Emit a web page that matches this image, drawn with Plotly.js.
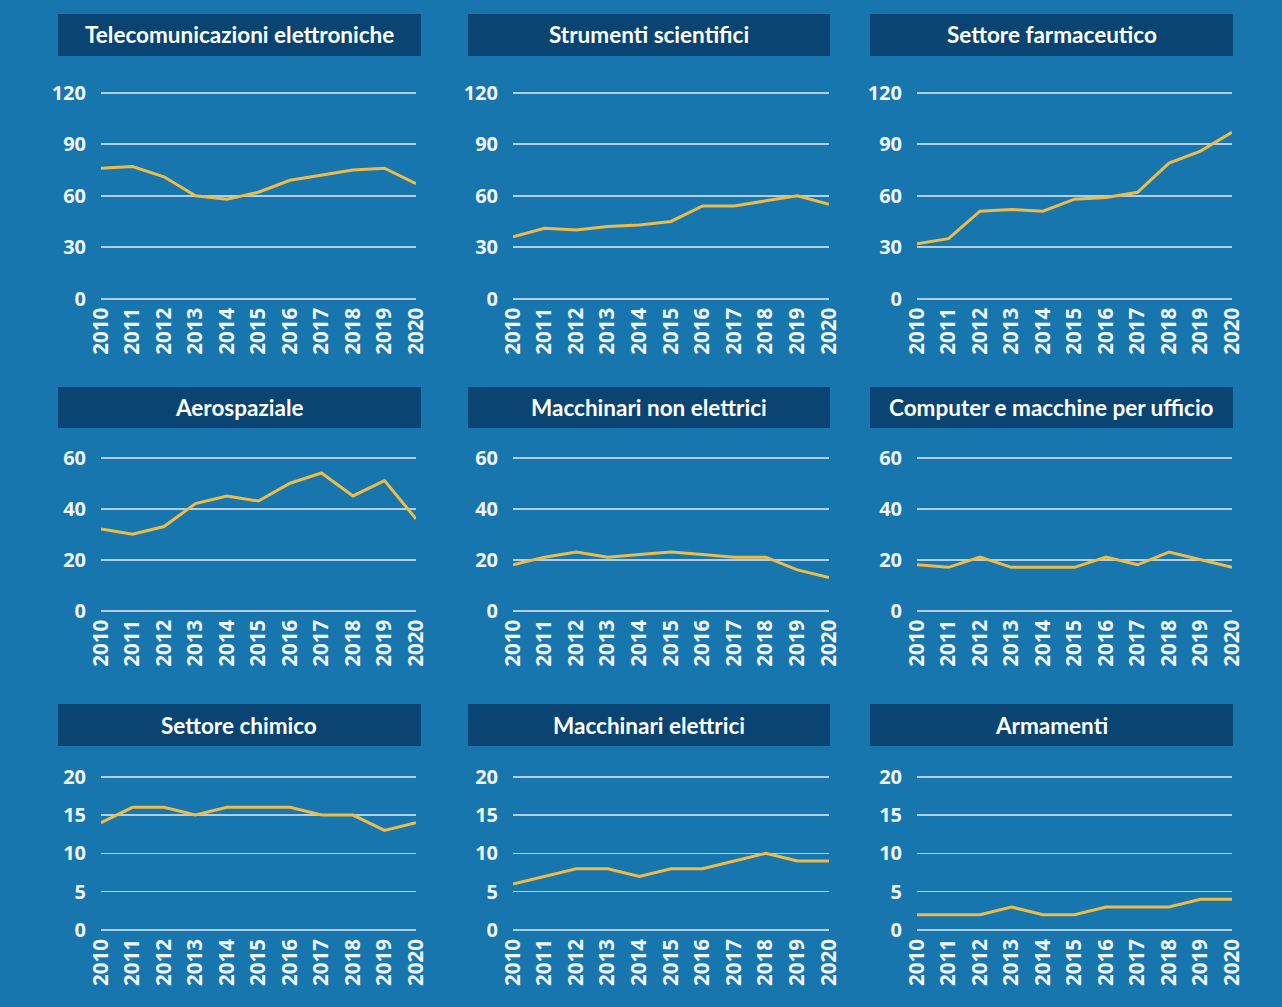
<!DOCTYPE html>
<html>
<head>
<meta charset="utf-8">
<script src="https://cdn.plot.ly/plotly-3.0.1.min.js"></script>
<style>html,body{margin:0;padding:0;background:#1776ad;}#chart{width:1282px;height:1007px;}</style>
</head>
<body>
<div id="chart"></div>
<script>
const years = [2010, 2011, 2012, 2013, 2014, 2015, 2016, 2017, 2018, 2019, 2020];
const yearLabels = ["2010","2011","2012","2013","2014","2015","2016","2017","2018","2019","2020"];

const titles = [
  "Telecomunicazioni elettroniche", "Strumenti scientifici", "Settore farmaceutico",
  "Aerospaziale", "Macchinari non elettrici", "Computer e macchine per ufficio",
  "Settore chimico", "Macchinari elettrici", "Armamenti"
];

const telecomunicazioni = [76, 77, 71, 60, 58, 62, 69, 72, 75, 76, 67];
const strumenti = [36, 41, 40, 42, 43, 45, 54, 54, 57, 60, 55];
const farmaceutico = [32, 35, 51, 52, 51, 58, 59, 62, 79, 86, 97];
const aerospaziale = [32, 30, 33, 42, 45, 43, 50, 54, 45, 51, 36];
const macchinariNonElettrici = [18, 21, 23, 21, 22, 23, 22, 21, 21, 16, 13];
const computer = [18, 17, 21, 17, 17, 17, 21, 18, 23, 20, 17];
const chimico = [14, 16, 16, 15, 16, 16, 16, 15, 15, 13, 14];
const macchinariElettrici = [6, 7, 8, 8, 7, 8, 8, 9, 10, 9, 9];
const armamenti = [2, 2, 2, 3, 2, 2, 3, 3, 3, 4, 4];

const rowTicks = [[0, 30, 60, 90, 120], [0, 20, 40, 60], [0, 5, 10, 15, 20]];
const rowMax = [120, 60, 20];

const series = [telecomunicazioni, strumenti, farmaceutico, aerospaziale, macchinariNonElettrici, computer, chimico, macchinariElettrici, armamenti];

const W = 1282, H = 1007;
// layout geometry in pixels
const colPlot = [[101, 416], [513, 829], [917, 1232]];
const colBar = [[58, 421], [468, 830], [870, 1233]];
const rowPlot = [[92.7, 298.7], [457.7, 610.7], [776.7, 930]];
const rowBar = [[14, 56], [387, 428], [704, 746]];
const PAD = 4; // pixel padding so edge gridlines are drawn

const px = v => v / W;
const py = v => 1 - v / H;

const lineColor = "#ecbb4a";
const gridColor = "#b3cde1";
const tickFont = {family: "Open Sans, DejaVu Sans, sans-serif", size: 20, color: "#eef4f9", weight: 700};
const xTickFont = {family: "Open Sans, DejaVu Sans, sans-serif", size: 20.5, color: "#eef4f9", weight: 700};

const traces = [];
const layout = {
  width: W, height: H,
  margin: {l: 0, r: 0, t: 0, b: 0},
  paper_bgcolor: "#1776ad",
  plot_bgcolor: "rgba(0,0,0,0)",
  showlegend: false,
  shapes: [],
  annotations: []
};

for (let i = 0; i < 9; i++) {
  const r = Math.floor(i / 3), c = i % 3;
  const n = i === 0 ? "" : String(i + 1);
  traces.push({
    type: "scatter", mode: "lines",
    x: years, y: series[i],
    xaxis: "x" + n, yaxis: "y" + n,
    line: {color: lineColor, width: 3},
    cliponaxis: false,
    hoverinfo: "x+y"
  });
  const top = rowPlot[r][0], bot = rowPlot[r][1];
  const perPx = rowMax[r] / (bot - top);
  layout["xaxis" + n] = {
    domain: [px(colPlot[c][0]), px(colPlot[c][1])],
    anchor: "y" + n,
    range: [2010, 2020],
    tickmode: "array", tickvals: years, ticktext: yearLabels,
    tickangle: -90,
    tickfont: xTickFont,
    showgrid: false, zeroline: false, showline: false,
    ticks: "", ticklabelstandoff: 0,
    fixedrange: true
  };
  layout["yaxis" + n] = {
    domain: [py(bot + PAD), py(top - PAD)],
    anchor: "x" + n,
    range: [-PAD * perPx, rowMax[r] + PAD * perPx],
    tickmode: "array", tickvals: rowTicks[r],
    tickfont: tickFont,
    showgrid: true, gridcolor: gridColor, gridwidth: 1.6,
    zeroline: false, showline: false,
    ticks: "", ticklabelstandoff: 14,
    fixedrange: true
  };
  layout.shapes.push({
    type: "rect", xref: "paper", yref: "paper",
    x0: px(colBar[c][0]), x1: px(colBar[c][1]),
    y0: py(rowBar[r][1]), y1: py(rowBar[r][0]),
    fillcolor: "#0a4472", line: {width: 0}, layer: "below"
  });
  layout.annotations.push({
    xref: "paper", yref: "paper",
    x: px((colBar[c][0] + colBar[c][1]) / 2),
    y: py((rowBar[r][0] + rowBar[r][1]) / 2),
    xanchor: "center", yanchor: "middle",
    text: titles[i], showarrow: false,
    font: {family: "Lato, Open Sans, sans-serif", size: 22.5, color: "#ffffff", weight: 700}
  });
}

Plotly.newPlot("chart", traces, layout, {displayModeBar: false, staticPlot: true});
</script>
</body>
</html>
